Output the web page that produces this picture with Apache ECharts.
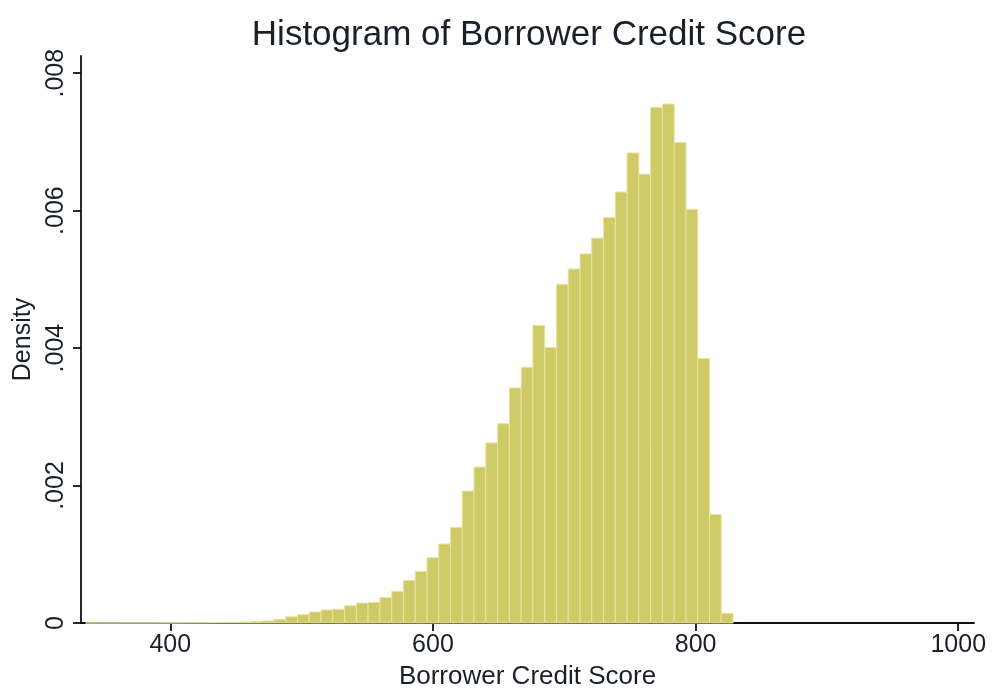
<!DOCTYPE html>
<html>
<head>
<meta charset="utf-8">
<title>Histogram of Borrower Credit Score</title>
<script src="https://cdn.jsdelivr.net/npm/echarts@6/dist/echarts.min.js"></script>
<style>
  html, body { margin: 0; padding: 0; background: #ffffff; }
  #chart { width: 992px; height: 696px; }
</style>
</head>
<body>
<div id="chart"></div>
<script>
// Bin edges (credit score) of the histogram: 55 bins
var binEdges = [
  335.5, 344.5, 353.5, 362.4, 371.4, 380.4, 389.3, 398.3, 407.2, 416.2,
  425.2, 434.1, 443.1, 452.1, 461.0, 470.0, 478.9, 487.9, 496.9, 505.8,
  514.8, 523.8, 532.7, 541.7, 550.6, 559.6, 568.6, 577.5, 586.5, 595.5,
  604.4, 613.4, 622.3, 631.3, 640.3, 649.2, 658.2, 667.2, 676.1, 685.1,
  694.1, 703.0, 712.0, 720.9, 729.9, 738.9, 747.8, 756.8, 765.8, 774.7,
  783.7, 792.7, 801.6, 810.6, 819.5, 828.5
];

// Density of each bin
var densities = [
  0.000001, 0.000001, 0.000001, 0.000002, 0.000002, 0.000002, 0.000003, 0.000003, 0.000004, 0.000005,
  0.000006, 0.000008, 0.000010, 0.000015, 0.000020, 0.000030, 0.000050, 0.000090, 0.000120, 0.000160,
  0.000190, 0.000200, 0.000250, 0.000290, 0.000300, 0.000370, 0.000460, 0.000620, 0.000750, 0.000950,
  0.001150, 0.001390, 0.001920, 0.002270, 0.002620, 0.002900, 0.003420, 0.003720, 0.004330, 0.004010,
  0.004930, 0.005150, 0.005370, 0.005600, 0.005900, 0.006270, 0.006840, 0.006530, 0.007500, 0.007550,
  0.006990, 0.006020, 0.003850, 0.001580, 0.000140
];

// Axis ticks and their labels
var xTicks = [400, 600, 800, 1000];
var xTickLabels = ['400', '600', '800', '1000'];
var yTicks = [0, 0.002, 0.004, 0.006, 0.008];
var yTickLabels = ['0', '.002', '.004', '.006', '.008'];

var FONT = '"Liberation Sans", Arial, Helvetica, sans-serif';
var INK = '#1a2029';

var bins = densities.map(function (d, i) {
  return [binEdges[i], binEdges[i + 1], d];
});

var chart = echarts.init(document.getElementById('chart'), null, { renderer: 'canvas' });

chart.setOption({
  backgroundColor: '#ffffff',
  animation: false,
  graphic: [{
    type: 'text',
    x: 529,
    y: 35,
    style: {
      text: 'Histogram of Borrower Credit Score',
      font: '35px ' + FONT,
      fill: INK,
      textAlign: 'center',
      textVerticalAlign: 'middle'
    }
  }],
  grid: { left: 81, right: 18, top: 56, bottom: 73 },
  xAxis: {
    type: 'value',
    min: 332,
    max: 1012,
    name: 'Borrower Credit Score',
    nameLocation: 'middle',
    nameGap: 41,
    nameTextStyle: { fontFamily: FONT, fontSize: 26, color: INK },
    axisLine: { show: true, lineStyle: { color: '#111111', width: 1.8 } },
    axisTick: { show: true, length: 8, lineStyle: { color: '#111111', width: 1.8 }, customValues: xTicks },
    axisLabel: {
      fontFamily: FONT, fontSize: 25, color: INK, margin: 10,
      customValues: xTicks,
      formatter: function (v) {
        var i = xTicks.indexOf(v);
        return i >= 0 ? xTickLabels[i] : '';
      }
    },
    splitLine: { show: false }
  },
  yAxis: {
    type: 'value',
    min: 0,
    max: 0.00825,
    name: 'Density',
    nameLocation: 'middle',
    nameRotate: 90,
    nameGap: 45,
    nameTextStyle: { fontFamily: FONT, fontSize: 25, color: INK },
    axisLine: { show: true, lineStyle: { color: '#111111', width: 1.8 } },
    axisTick: { show: true, length: 8, lineStyle: { color: '#111111', width: 1.8 }, customValues: yTicks },
    axisLabel: {
      fontFamily: FONT, fontSize: 25, color: INK, margin: 12, rotate: 90,
      customValues: yTicks,
      formatter: function (v) {
        var i = yTicks.indexOf(v);
        return i >= 0 ? yTickLabels[i] : '';
      }
    },
    splitLine: { show: false }
  },
  series: [{
    type: 'custom',
    name: 'Density',
    data: bins,
    encode: { x: [0, 1], y: 2 },
    renderItem: function (params, api) {
      var topLeft = api.coord([api.value(0), api.value(2)]);
      var bottomRight = api.coord([api.value(1), 0]);
      return {
        type: 'rect',
        shape: {
          x: topLeft[0],
          y: topLeft[1],
          width: bottomRight[0] - topLeft[0],
          height: bottomRight[1] - topLeft[1]
        },
        style: { fill: '#cfca68', stroke: '#e8e49c', lineWidth: 1 }
      };
    }
  }]
});
</script>
</body>
</html>
